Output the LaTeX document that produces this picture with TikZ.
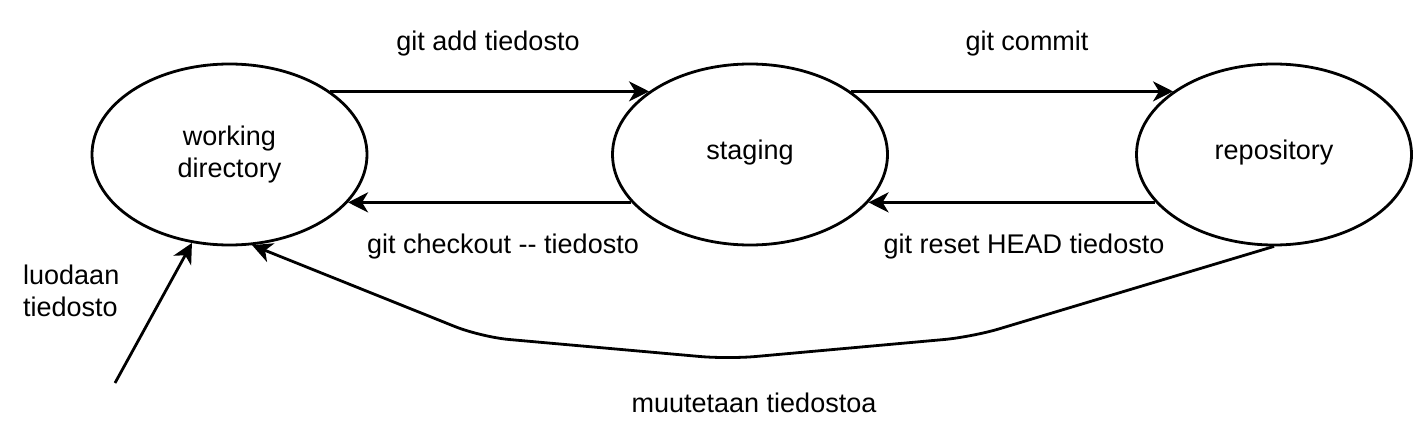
\documentclass[tikz,border=0pt]{standalone}
\usepackage{fontspec}
\setmainfont{Liberation Sans}
\usetikzlibrary{shapes.geometric,arrows.meta}
\tikzset{
  state/.style={ellipse, draw, line width=2.8pt, minimum width=275pt, minimum height=181pt, inner sep=0pt},
  lbl/.style={inner sep=0pt, font=\fontsize{27}{32}\selectfont},
  arr/.style={line width=2.8pt, -{Stealth[length=20pt,width=20pt,inset=6pt]}}
}
\begin{document}
\begin{tikzpicture}[x=1pt,y=-1pt]
\useasboundingbox (0,0) rectangle (1426,422);
\node[state] (wd) at (229.5,154.5) {};
\node[state] (st) at (750,154.5) {};
\node[state] (rp) at (1274,154.5) {};
\node[lbl, align=center] (wdt) at (229.5,154.5) {working\\directory};
\node[lbl] (stt) at (750,153) {staging};
\node[lbl] (rpt) at (1274,153) {repository};

\draw[arr] (wd.32) -- (st.148);
\draw[arr] (st.32) -- (rp.148);
\draw[arr] (st.202) -- (wd.-22);
\draw[arr] (rp.202) -- (st.-22);

\node[lbl] (l1) at (488,44) {git add tiedosto};
\node[lbl] (l2) at (1027,44) {git commit};
\node[lbl] (l3) at (503,247) {git checkout -{}- tiedosto};
\node[lbl] (l4) at (1024,247) {git reset HEAD tiedosto};
\node[lbl] (l5) at (754,403) {muutetaan tiedostoa};
\node[lbl, align=left, anchor=west] (l6) at (23,291) {luodaan\\tiedosto};

\coordinate (src) at (115,383);
\draw[arr] (src) -- (wd.-113.5);

\coordinate (c1) at (972,337);
\coordinate (c2) at (728,359);
\coordinate (c3) at (481,337);
\draw[arr, rounded corners=28pt] (rp.south) -- (c1) -- (c2) -- (c3) -- (wd.-76);
\end{tikzpicture}
\end{document}
